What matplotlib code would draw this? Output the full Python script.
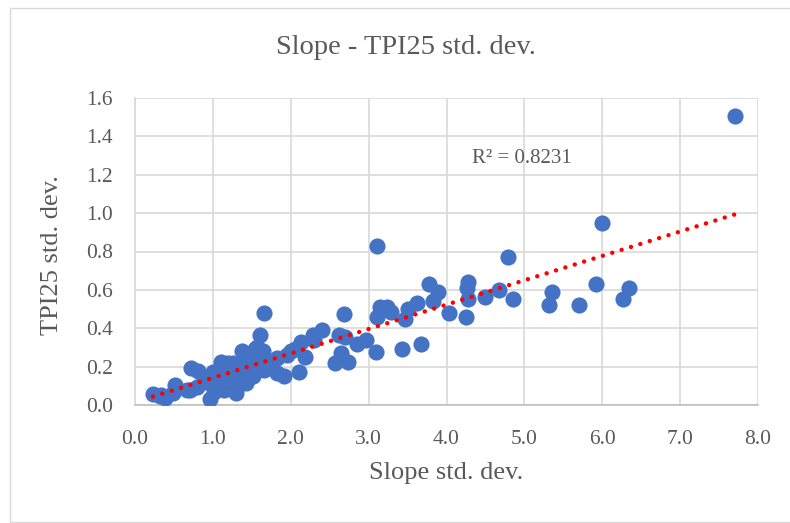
import matplotlib
matplotlib.use("Agg")
import matplotlib.pyplot as plt
import numpy as np
from matplotlib.patches import Rectangle

# Data
slope_sd = [
    7.70, 6.00, 4.79, 3.11,
    2.69, 3.15, 3.23, 3.29, 3.11, 3.47, 3.51, 3.62, 3.78, 3.89, 3.83, 4.03,
    4.25, 4.28, 4.26, 4.28, 4.50, 4.67, 4.86, 3.43, 3.67, 3.09,
    2.62, 2.70, 2.85, 2.97, 2.65, 2.57, 2.74, 2.40, 2.28, 2.13, 2.00, 2.18,
    2.11, 1.91,
    5.35, 5.32, 5.70, 5.92, 6.34, 6.27,
    1.66, 1.60, 1.38, 0.72, 0.23, 0.32, 0.51, 0.49, 0.70, 0.81, 0.87, 0.96,
    1.04, 1.13, 1.26, 1.30, 1.43, 1.52, 1.54, 1.62, 1.22, 1.09,
    1.95, 1.82, 1.64, 1.57, 1.44, 1.19, 1.10, 1.66, 1.44, 1.31, 1.14, 1.06,
    0.93, 0.80, 0.67, 0.38, 0.33, 1.82, 1.00, 1.20, 1.35, 1.50, 1.70, 0.90,
    1.75, 2.05, 2.30, 1.28, 1.48, 1.02,
]
tpi25_sd = [
    1.504, 0.95, 0.77, 0.83,
    0.475, 0.51, 0.51, 0.485, 0.46, 0.45, 0.50, 0.53, 0.63, 0.59, 0.54, 0.48,
    0.46, 0.64, 0.61, 0.55, 0.565, 0.60, 0.55, 0.29, 0.32, 0.275,
    0.365, 0.355, 0.32, 0.34, 0.27, 0.22, 0.225, 0.39, 0.365, 0.33, 0.28, 0.25,
    0.17, 0.15,
    0.59, 0.52, 0.52, 0.63, 0.61, 0.55,
    0.48, 0.365, 0.28, 0.195, 0.055, 0.045, 0.105, 0.06, 0.08, 0.175, 0.15, 0.03,
    0.10, 0.22, 0.22, 0.06, 0.115, 0.15, 0.29, 0.235, 0.15, 0.15,
    0.26, 0.245, 0.28, 0.30, 0.25, 0.22, 0.225, 0.18, 0.13, 0.095, 0.08, 0.13,
    0.13, 0.095, 0.08, 0.035, 0.05, 0.165, 0.17, 0.18, 0.20, 0.21, 0.22, 0.12,
    0.21, 0.29, 0.34, 0.14, 0.18, 0.07,
]
x_ticks = [0.0, 1.0, 2.0, 3.0, 4.0, 5.0, 6.0, 7.0, 8.0]
y_ticks = [0.0, 0.2, 0.4, 0.6, 0.8, 1.0, 1.2, 1.4, 1.6]
title = "Slope - TPI25 std. dev."
x_label = "Slope std. dev."
y_label = "TPI25 std. dev."
r2_text = "R² = 0.8231"

plt.rcParams['font.family'] = ['Liberation Serif', 'DejaVu Serif']
text_color = "#595959"
grid_color = "#D9D9D9"

fig = plt.figure(figsize=(7.90, 5.23), dpi=100)
fig.patches.append(Rectangle((10/790, 1/523), 790/790, 514/523, transform=fig.transFigure,
                             fill=False, edgecolor="#D9D9D9", lw=1.0))
ax = fig.add_axes([135/790, (523-405)/523, (758-135)/790, (405-98)/523])

x = np.array(slope_sd)
y = np.array(tpi25_sd)
ax.scatter(x, y, s=135, color="#4472C4", zorder=3, linewidths=0)

coef = np.polyfit(x, y, 1)
xs = np.array([x.min(), x.max()])
ax.plot(xs, np.polyval(coef, xs), color="#FF0000", lw=3.2,
        linestyle=(0, (0.01, 2.2)), dash_capstyle="round", zorder=4)

ax.set_xlim(0, 8)
ax.set_ylim(0, 1.6)
ax.set_xticks(x_ticks)
ax.set_yticks(y_ticks)
ax.set_xticklabels([f"{v:.1f}" for v in x_ticks])
ax.set_yticklabels([f"{v:.1f}" for v in y_ticks])
ax.grid(True, color=grid_color, lw=1.2, zorder=0)
ax.set_axisbelow(True)
for s in ["top", "right"]:
    ax.spines[s].set_visible(False)
ax.spines["left"].set_color(grid_color)
ax.spines["bottom"].set_color("#BFBFBF")
ax.spines["left"].set_linewidth(1.2)
ax.spines["bottom"].set_linewidth(1.2)
ax.tick_params(length=0, labelsize=15.5, colors=text_color)
ax.tick_params(axis="y", pad=16)
ax.tick_params(axis="x", pad=18)

ax.text(4.33, 1.285, r2_text, fontsize=15, color=text_color, va="center", ha="left")

fig.text(406/790, 1 - 48/523, title, ha="center", va="center", fontsize=20.5, color=text_color)
fig.text(446/790, 1 - 473/523, x_label, ha="center", va="center", fontsize=19, color=text_color)
fig.text(52/790, 1 - 255/523, y_label, ha="center", va="center", fontsize=19,
         color=text_color, rotation=90)

fig.savefig("out.png", dpi=100)
